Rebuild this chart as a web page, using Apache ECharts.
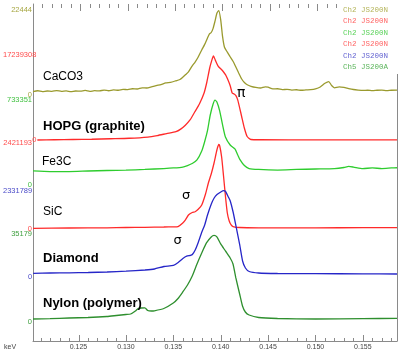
<!DOCTYPE html>
<html><head><meta charset="utf-8">
<script src="https://cdn.jsdelivr.net/npm/echarts@6/dist/echarts.min.js"></script>
<style>html,body{margin:0;padding:0;background:#fff}#c{width:400px;height:356px}</style>
</head><body><div id="c"></div>
<script>
// ---- data ----
const xMin = 0.1202, xMax = 0.1586;
const xMajorTicks = [0.125, 0.130, 0.135, 0.140, 0.145, 0.150, 0.155];
const seriesNames = ['CaCO3', 'HOPG (graphite)', 'Fe3C', 'SiC', 'Diamond', 'Nylon (polymer)'];
const axisMax = [22444, 17239308, 733351, 2421193, 2331789, 35179];
const legendLabels = ['Ch2 JS200N', 'Ch2 JS200N', 'Ch2 JS200N', 'Ch2 JS200N', 'Ch2 JS200N', 'Ch5 JS200A'];

const kevCaCO3 = [0.1202,0.1207,0.1212,0.1217,0.1222,0.1227,0.1232,0.1237,0.1242,0.1247,0.1252,0.1257,0.1262,0.1267,0.1272,0.1277,0.1282,0.1287,0.1292,0.1297,0.1302,0.1307,0.1312,0.1317,0.1322,0.1327,0.1332,0.1337,0.1342,0.1347,0.1352,0.1357,0.1360,0.1363,0.1366,0.1370,0.1373,0.1376,0.1380,0.1383,0.1386,0.1388,0.1390,0.1392,0.1394,0.1396,0.1398,0.1400,0.1402,0.1404,0.1407,0.1410,0.1413,0.1416,0.1419,0.1422,0.1425,0.1428,0.1432,0.1437,0.1442,0.1447,0.1450,0.1455,0.1460,0.1465,0.1470,0.1475,0.1480,0.1485,0.1490,0.1495,0.1500,0.1505,0.1510,0.1514,0.1517,0.1520,0.1525,0.1530,0.1535,0.1540,0.1545,0.1550,0.1555,0.1560,0.1565,0.1570,0.1575,0.1580,0.1586];
const valCaCO3 = [870,1120,900,1050,950,1180,980,1100,870,1060,1000,1200,950,1150,1080,1300,1120,1350,1250,1500,1400,1650,1580,1900,1850,2150,2500,2750,3200,3350,3700,4100,4700,5400,6100,7700,8700,9900,11900,13300,15000,16100,16500,17600,19500,21600,22300,19900,15400,12600,11300,10100,8900,7400,5800,4300,3300,2700,2300,2000,1850,2150,2050,1600,1650,1400,1500,1300,1380,1250,1350,1400,1600,2100,3100,3550,2500,1900,2150,2000,1700,1450,1300,1200,1250,1150,1250,1300,1150,1250,1300];

const kevHOPG = [0.1202,0.122,0.124,0.126,0.128,0.130,0.132,0.133,0.134,0.135,0.1355,0.136,0.1365,0.137,0.1375,0.138,0.1383,0.1386,0.1388,0.139,0.1392,0.1395,0.140,0.1403,0.1405,0.1408,0.141,0.1412,0.1414,0.1416,0.142,0.1423,0.1426,0.143,0.144,0.150,0.155,0.1586];
const valHOPG = [0,50000,100000,150000,250000,350000,600000,900000,1300000,1680000,2200000,3000000,4060000,5680000,7300000,9530000,11760000,14600000,16000000,17040000,16200000,15000000,14000000,13200000,12400000,10950000,9530000,9330000,9000000,8100000,4870000,2430000,710000,100000,50000,40000,40000,40000];

const kevFe3C = [0.1202,0.122,0.124,0.126,0.128,0.130,0.132,0.134,0.135,0.136,0.1365,0.137,0.1375,0.138,0.1383,0.1386,0.1389,0.1392,0.1394,0.1396,0.1399,0.1402,0.1405,0.141,0.1415,0.1418,0.142,0.1425,0.143,0.144,0.146,0.148,0.150,0.152,0.153,0.1535,0.154,0.155,0.156,0.157,0.158,0.1586];
const valFe3C = [121000,116000,116000,121000,125000,129000,134000,142000,147000,155000,168000,185000,216000,293000,371000,466000,604000,699000,733000,716000,638000,518000,414000,345000,311000,259000,224000,168000,142000,134000,129000,134000,138000,142000,151000,160000,155000,142000,147000,142000,147000,149000];

const kevSiC = [0.1202,0.124,0.128,0.130,0.132,0.134,0.135,0.1355,0.136,0.1363,0.1366,0.137,0.1373,0.1376,0.138,0.1384,0.1387,0.139,0.1393,0.1396,0.1398,0.1399,0.1401,0.1403,0.1405,0.1407,0.1409,0.1411,0.1413,0.142,0.144,0.150,0.155,0.1586];
const valSiC = [20000,28000,34000,42000,48000,56000,62000,70000,169000,267000,394000,465000,487000,549000,676000,985000,1295000,1548000,1858000,2224000,2379000,2337000,2027000,1492000,929000,450000,225000,113000,70000,42000,34000,34000,37000,37000];

const kevDiamond = [0.1202,0.122,0.124,0.126,0.128,0.130,0.132,0.133,0.134,0.135,0.1355,0.136,0.1364,0.1368,0.137,0.1373,0.1376,0.138,0.1383,0.1386,0.139,0.1393,0.1396,0.140,0.1403,0.1405,0.1408,0.141,0.1413,0.1416,0.142,0.1423,0.1426,0.143,0.144,0.146,0.150,0.155,0.1586];
const valDiamond = [100000,108000,114000,122000,136000,157000,190000,217000,285000,312000,393000,502000,564000,588000,610000,732000,922000,1220000,1410000,1681000,1979000,2142000,2237000,2305000,2340000,2318000,2169000,2061000,1762000,1383000,868000,434000,244000,149000,108000,95000,89000,87000,81000];

const kevNylon = [0.1202,0.122,0.124,0.126,0.128,0.129,0.130,0.1305,0.131,0.1313,0.1316,0.132,0.1323,0.1327,0.133,0.134,0.135,0.1355,0.136,0.1365,0.137,0.1375,0.138,0.1385,0.139,0.1393,0.1396,0.140,0.1405,0.141,0.1413,0.1416,0.142,0.1423,0.1426,0.143,0.144,0.146,0.150,0.155,0.1586];
const valNylon = [1200,1320,1600,1800,2200,2600,3000,3200,4400,5400,5600,5680,4600,4400,4480,5400,7600,9400,12000,14800,18400,23200,27600,31600,34000,34600,34000,31200,28400,25600,23200,17600,11200,6400,4000,2800,1800,1400,1200,1320,1480];

// ---- styling ----
const lineColors = ['#9a9a2e', '#ff2a2a', '#2ecc2e', '#ff2a2a', '#2626c8', '#2e8f2e'];
const labelColors = ['#a6a640', '#ff4a4a', '#40c040', '#ff4a4a', '#4a4ac8', '#40a040'];
const legendColors = ['#b4b45a', '#ff6464', '#5ad25a', '#ff6464', '#6464d2', '#5ab45a'];
const gridTops = [10, 55, 100, 143, 191, 234];
const gridHeights = [85, 85, 85, 86, 86, 88];
const nameBold = [false, true, false, false, true, true];
const namePos = [[43, 78.5], [43, 127], [42, 163.5], [43, 213.5], [43, 259], [43, 304]];

const allKev = [kevCaCO3, kevHOPG, kevFe3C, kevSiC, kevDiamond, kevNylon];
const allVal = [valCaCO3, valHOPG, valFe3C, valSiC, valDiamond, valNylon];

const tickColor = '#8a8a8a';
const frameTop = 4, frameBottom = 15;
const minorTickValues = [];
for (let i = 121; i <= 158; i++) minorTickValues.push(i / 1000);

function tickAxis(gridIndex, interval, length) {
  return {gridIndex: gridIndex, type: 'value', min: xMin, max: xMax, position: 'top', interval: interval,
    axisLine: {show: false, onZero: false},
    axisTick: {show: true, inside: true, length: length, lineStyle: {color: tickColor, width: 1}},
    axisLabel: {show: false}, splitLine: {show: false}};
}
function hiddenY(gridIndex) {
  return {gridIndex: gridIndex, type: 'value', show: false, splitLine: {show: false}};
}

const grids = [
  {left: 33, right: 3, top: frameTop, bottom: frameBottom},
  {left: 33, right: 3, top: frameTop, bottom: frameBottom},
  {left: 33, right: 3, top: frameTop, bottom: frameBottom}
];
const xAxes = [
  {gridIndex: 0, type: 'value', min: xMin, max: xMax, position: 'bottom',
   axisLine: {show: true, onZero: false, lineStyle: {color: tickColor, width: 1}},
   axisTick: {show: false},
   axisLabel: {show: true, customValues: xMajorTicks, formatter: v => v.toFixed(3), fontSize: 7, color: '#444', margin: 3, fontFamily: 'Liberation Sans'},
   splitLine: {show: false}},
  tickAxis(1, 0.005, 7),
  tickAxis(2, 0.001, 4)
];
const yAxes = [
  {gridIndex: 0, type: 'value', position: 'left', min: 0, max: 1, axisLine: {show: true, onZero: false, lineStyle: {color: tickColor}},
   axisTick: {show: false}, axisLabel: {show: false}, splitLine: {show: false}},
  {gridIndex: 0, type: 'value', position: 'right', min: 0, max: 1, axisLine: {show: true, onZero: false, lineStyle: {color: tickColor}},
   axisTick: {show: false}, axisLabel: {show: false}, splitLine: {show: false}},
  hiddenY(1), hiddenY(2)
];
const nX = xAxes.length, nY = yAxes.length, nG = grids.length;

// bottom ticks drawn through the x scale of grid 0
function bottomTicks(values, length) {
  return {
    type: 'custom', coordinateSystem: 'cartesian2d', xAxisIndex: 0, yAxisIndex: 0, silent: true, clip: false,
    data: values.map(v => [v, 0]),
    renderItem: function (params, api) {
      const p = api.coord([api.value(0), 0]);
      const x = Math.round(p[0]) + 0.5;
      return {type: 'line', shape: {x1: x, y1: p[1], x2: x, y2: p[1] - length},
        style: {stroke: tickColor, lineWidth: 1}};
    }
  };
}
const series = [bottomTicks(minorTickValues, 3), bottomTicks(xMajorTicks, 6)];
const graphics = [];
for (let i = 0; i < 6; i++) {
  grids.push({left: 33, right: 3, top: gridTops[i], height: gridHeights[i]});
  xAxes.push({gridIndex: nG + i, type: 'value', min: xMin, max: xMax, show: false});
  yAxes.push({gridIndex: nG + i, type: 'value', min: 0, max: axisMax[i], interval: axisMax[i],
    axisLine: {show: false}, axisTick: {show: false}, splitLine: {show: false},
    axisLabel: {show: true, fontSize: 7.5, color: labelColors[i], margin: 1, fontFamily: 'Liberation Sans',
      formatter: v => String(Math.round(v))}});
  series.push({
    name: seriesNames[i], type: 'line', xAxisIndex: nX + i, yAxisIndex: nY + i,
    data: allKev[i].map((k, j) => [k, allVal[i][j]]),
    showSymbol: false, clip: false, smooth: 0.2,
    lineStyle: {color: lineColors[i], width: 1.3}, itemStyle: {color: lineColors[i]}
  });
  graphics.push({type: 'text', left: namePos[i][0], top: namePos[i][1] - 7.5, z: 100,
    style: {text: seriesNames[i], fill: '#000', font: (nameBold[i] ? 'bold 13px' : '12px') + ' "Liberation Sans", Arial, sans-serif'}});
}
// Greek annotations
graphics.push({type: 'text', left: 237, top: 86, z: 100, style: {text: 'π', fill: '#000', font: '14px "DejaVu Sans", sans-serif'}});
graphics.push({type: 'text', left: 182, top: 189, z: 100, style: {text: 'σ', fill: '#000', font: '13px "DejaVu Sans", sans-serif'}});
graphics.push({type: 'text', left: 173.5, top: 234, z: 100, style: {text: 'σ', fill: '#000', font: '13px "DejaVu Sans", sans-serif'}});
// keV
graphics.push({type: 'text', left: 4, top: 344, z: 100, style: {text: 'keV', fill: '#444', font: '7px "Liberation Sans", sans-serif'}});
// legend box
graphics.push({type: 'rect', left: 337, top: 0, z: 90, shape: {width: 63, height: 74}, style: {fill: '#fff'}});
for (let i = 0; i < 6; i++) {
  graphics.push({type: 'text', left: 343, top: 6 + i * 11.5, z: 100,
    style: {text: legendLabels[i], fill: legendColors[i], font: '7.5px "Liberation Mono", monospace'}});
}

const chart = echarts.init(document.getElementById('c'), null, {renderer: 'canvas'});
chart.setOption({
  animation: false,
  backgroundColor: '#fff',
  grid: grids, xAxis: xAxes, yAxis: yAxes, series: series, graphic: graphics
});
</script></body></html>
